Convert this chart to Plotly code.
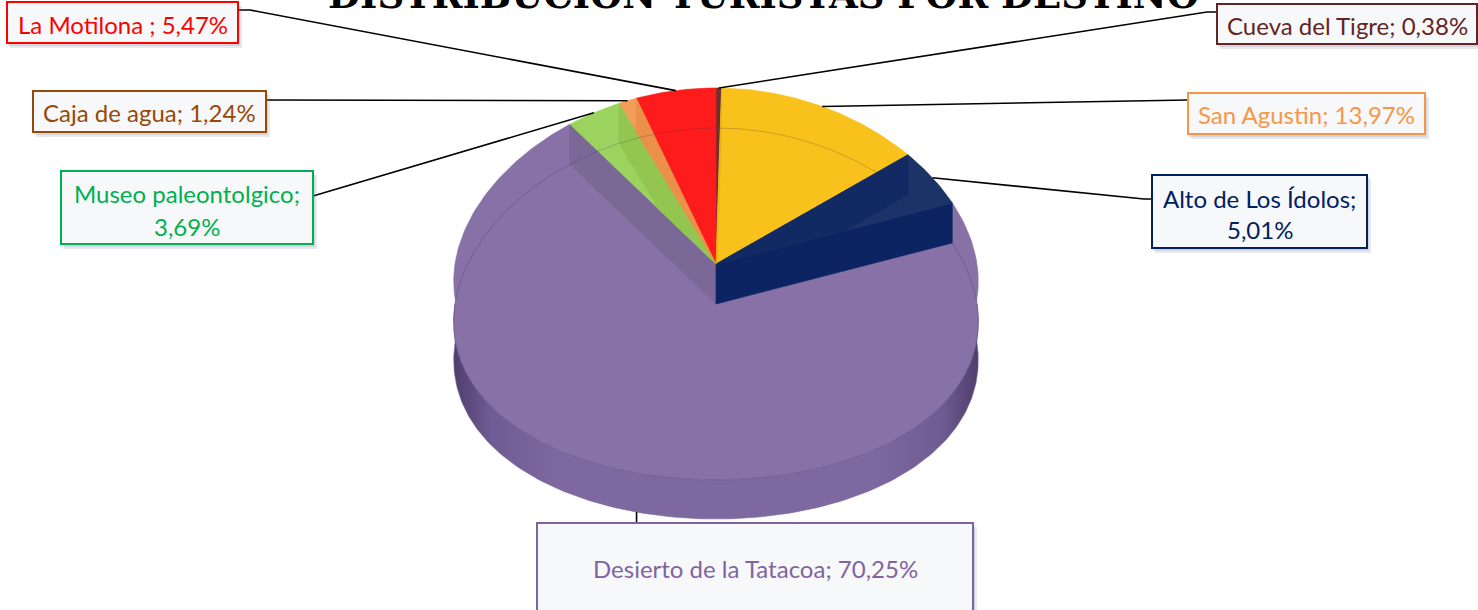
import numpy as np
import plotly.graph_objects as go

# ---------------- data ----------------
categories = ["Cueva del Tigre", "San Agustin", "Alto de Los Ídolos", "Desierto de la Tatacoa",
              "Museo paleontolgico", "Caja de agua", "La Motilona "]
values = [0.38, 13.97, 5.01, 70.25, 3.69, 1.24, 5.47]
title_text = "DISTRIBUCIÓN TURISTAS POR DESTINO"

# ---------------- styles ----------------
slice_colors = ["#6B3030", "#F9C11B", "#1B3366", "#8771A6", "#9BD35E", "#F19E58", "#FE1B1B"]
shade_colors = ["#552626", "#E4AC10", "#0C2461", "#7C6896", "#8DBE48", "#E5863E", "#DD1212"]
label_colors = ["#632523", "#F79646", "#002060", "#8064A2", "#00B050", "#984807", "#FF0000"]
label_wrap = [False, False, True, False, True, False, False]

# label box layout (pixels)
box_x0 = [1217, 1188, 1152, 537, 61, 33, 7]
box_y0 = [4, 93, 175, 523, 171, 91, 2]
box_x1 = [1477, 1425, 1367, 973, 313, 266, 238]
box_y1 = [44, 134, 248, 617, 244, 132, 43]
text_line_y = [[25], [114.5], [198.5, 229.5], [568.5], [193, 226], [112.5], [24.5]]
elbow_pts = [(1207, 12), None, (1144, 199), None, (322, 194), None, (250, 10)]
attach_pts = [(1217, 12), (1188, 100), (1152, 199), None, (313, 196), (266, 100), (238, 10)]

# pie geometry (pixels)
W, H = 1478, 610
CX, CY_TOP = 716.0, 264.0
DROP = 40.0      # sunken level offset
DEPTH = 39.0     # outer wall depth
A, B = 261.0, 176.0
PERSP = 0.1
CY_LOW = CY_TOP + DROP

LABEL_FONT = "Lato"
LABEL_SIZE = 24


def hex2rgb(h):
    h = h.lstrip("#")
    return [int(h[i:i + 2], 16) for i in (0, 2, 4)]


def mix(c1, c2, t):
    a, b = hex2rgb(c1), hex2rgb(c2)
    return "#%02x%02x%02x" % tuple(int(round(a[i] * (1 - t) + b[i] * t)) for i in range(3))


def pt(theta, cy):
    t = np.radians(theta)
    f = 1 - PERSP * np.cos(t)
    return CX + A * np.sin(t) * f, cy - B * np.cos(t)


def arc(t0, t1, cy, n=None):
    if n is None:
        n = max(3, int(abs(t1 - t0) / 1.0) + 2)
    th = np.linspace(t0, t1, n)
    xs, ys = pt(th, cy)
    return list(xs), list(ys)


def clip_poly(subject, clip):
    # Sutherland-Hodgman against convex clip polygon
    def area(p):
        s = 0
        for i in range(len(p)):
            x1, y1 = p[i]
            x2, y2 = p[(i + 1) % len(p)]
            s += x1 * y2 - x2 * y1
        return s / 2
    if area(clip) < 0:
        clip = clip[::-1]

    def inside(p, a, b):
        return (b[0] - a[0]) * (p[1] - a[1]) - (b[1] - a[1]) * (p[0] - a[0]) >= -1e-9

    def inter(p1, p2, a, b):
        x1, y1 = p1; x2, y2 = p2; x3, y3 = a; x4, y4 = b
        den = (x1 - x2) * (y3 - y4) - (y1 - y2) * (x3 - x4)
        if abs(den) < 1e-12:
            return p2
        t = ((x1 - x3) * (y3 - y4) - (y1 - y3) * (x3 - x4)) / den
        return (x1 + t * (x2 - x1), y1 + t * (y2 - y1))

    out = subject
    for i in range(len(clip)):
        a, b = clip[i], clip[(i + 1) % len(clip)]
        inp = out
        out = []
        if not inp:
            break
        s = inp[-1]
        for e in inp:
            if inside(e, a, b):
                if not inside(s, a, b):
                    out.append(inter(s, e, a, b))
                out.append(e)
            elif inside(s, a, b):
                out.append(inter(s, e, a, b))
            s = e
    return out


def poly_trace(xs, ys, color, grad=None):
    kw = dict(x=list(xs) + [xs[0]], y=list(ys) + [ys[0]], mode="lines", fill="toself",
              fillcolor=color, line=dict(color=color, width=0.6), hoverinfo="skip",
              showlegend=False)
    if grad is not None:
        kw["fillgradient"] = grad
    return go.Scatter(**kw)


total = sum(values)
ends = list(np.cumsum(values) / total * 360.0)
starts = [0.0] + ends[:-1]
k = int(np.argmax(values))  # sunken slice

fig = go.Figure()

# --- sunken (largest) slice ---
s, e = starts[k], ends[k]
xs, ys = arc(s, e, CY_TOP)
fig.add_trace(poly_trace([CX] + xs, [CY_TOP] + ys, slice_colors[k]))
# front outer wall
wx, wy = arc(max(s, 90), min(e, 270), CY_LOW)
bx = wx[::-1]
by = [v + DEPTH for v in wy[::-1]]
fig.add_trace(poly_trace(wx + bx, wy + by, "#7E68A0",
                         grad=dict(type="horizontal",
                                   colorscale=[[0, "#4E3E6C"], [0.07, "#6F5B93"], [0.2, "#7E68A0"],
                                               [0.8, "#7E68A0"], [0.93, "#6F5B93"], [1, "#4E3E6C"]])))
# lower top face
xs, ys = arc(s, e, CY_LOW)
fig.add_trace(poly_trace([CX] + xs, [CY_LOW] + ys, slice_colors[k]))
# cut face at end of sunken slice
px, py = pt(e, CY_TOP)
fig.add_trace(poly_trace([px, CX, CX, px], [py, CY_TOP, CY_LOW, py + DROP], shade_colors[k]))
# front cut face of previous slice at start of sunken slice
j = (k - 1) % len(values)
px, py = pt(s, CY_TOP)
fig.add_trace(poly_trace([CX, px, px, CX], [CY_TOP, py, py + DROP, CY_LOW], shade_colors[j]))

# --- raised slices top faces ---
sectors = {}
for i in range(len(values)):
    if i == k:
        continue
    xs, ys = arc(starts[i], ends[i], CY_TOP)
    sectors[i] = list(zip([CX] + xs, [CY_TOP] + ys))
    fig.add_trace(poly_trace([CX] + xs, [CY_TOP] + ys, slice_colors[i]))

# --- inner cut faces of raised slices ---
for i in range(len(values)):
    if i == k:
        continue
    for ang, cond in ((starts[i], 0.5 < starts[i] < 180), (ends[i], 180 < ends[i] < 359.5)):
        if not cond:
            continue
        px, py = pt(ang, CY_TOP)
        quad = [(CX, CY_TOP), (px, py), (px, py + DROP), (CX, CY_LOW)]
        cp = clip_poly(quad, sectors[i])
        if len(cp) >= 3:
            col = mix(slice_colors[i], shade_colors[i], 0.6)
            fig.add_trace(poly_trace([p[0] for p in cp], [p[1] for p in cp], col))

# faint lower outline
xs, ys = arc(0, 360, CY_LOW, 361)
fig.add_trace(go.Scatter(x=xs, y=ys, mode="lines", line=dict(color="rgba(50,30,80,0.22)", width=1),
                         hoverinfo="skip", showlegend=False))

# --- leader lines ---
for i in range(len(values)):
    mid = (starts[i] + ends[i]) / 2
    if i == k:
        ax, ay = pt(mid, CY_LOW)
        ay += DEPTH
        lx, ly = [ax, ax], [ay, box_y0[i]]
    else:
        ax, ay = pt(mid, CY_TOP)
        lx, ly = [ax], [ay]
        if elbow_pts[i] is not None:
            lx.append(elbow_pts[i][0]); ly.append(elbow_pts[i][1])
        lx.append(attach_pts[i][0]); ly.append(attach_pts[i][1])
    fig.add_trace(go.Scatter(x=lx, y=ly, mode="lines", line=dict(color="black", width=1.6),
                             hoverinfo="skip", showlegend=False))

# --- label boxes ---
shapes = []
annotations = []
for i in range(len(values)):
    shapes.append(dict(type="rect", x0=box_x0[i] + 3, y0=box_y0[i] + 4, x1=box_x1[i] + 4, y1=box_y1[i] + 5,
                       xref="x", yref="y", line=dict(width=0), fillcolor="rgba(110,120,150,0.16)"))
    shapes.append(dict(type="rect", x0=box_x0[i] + 1, y0=box_y0[i] + 2, x1=box_x1[i] + 2, y1=box_y1[i] + 3,
                       xref="x", yref="y", line=dict(width=0), fillcolor="rgba(110,120,150,0.18)"))
for i in range(len(values)):
    shapes.append(dict(type="rect", x0=box_x0[i], y0=box_y0[i], x1=box_x1[i], y1=box_y1[i],
                       xref="x", yref="y", line=dict(color=label_colors[i], width=2),
                       fillcolor="#F7F8FA"))
    pct = ("%.2f" % values[i]).replace(".", ",") + "%"
    if label_wrap[i]:
        lines = [categories[i] + ";", pct]
    else:
        lines = [categories[i] + "; " + pct]
    cx = (box_x0[i] + box_x1[i]) / 2
    for ln, yy in zip(lines, text_line_y[i]):
        annotations.append(dict(x=cx, y=yy, xref="x", yref="y", text=ln, showarrow=False,
                                xanchor="center", yanchor="middle",
                                font=dict(family=LABEL_FONT, size=LABEL_SIZE, color=label_colors[i])))

annotations.append(dict(x=763, y=1 + 5 / H, xref="x", yref="paper", text=title_text, showarrow=False,
                        xanchor="center", yanchor="middle",
                        font=dict(family="DejaVu Serif", size=37, color="black", weight=700)))

fig.update_layout(
    width=W, height=H, autosize=False,
    margin=dict(l=0, r=0, t=0, b=0, pad=0),
    paper_bgcolor="white", plot_bgcolor="white",
    xaxis=dict(range=[0, W], visible=False, fixedrange=True),
    yaxis=dict(range=[H, 0], visible=False, fixedrange=True),
    shapes=shapes, annotations=annotations, showlegend=False,
)
fig.write_html("out.html", config={"displayModeBar": False},
               post_script="document.body.style.margin='0';document.body.style.overflow='hidden';")
